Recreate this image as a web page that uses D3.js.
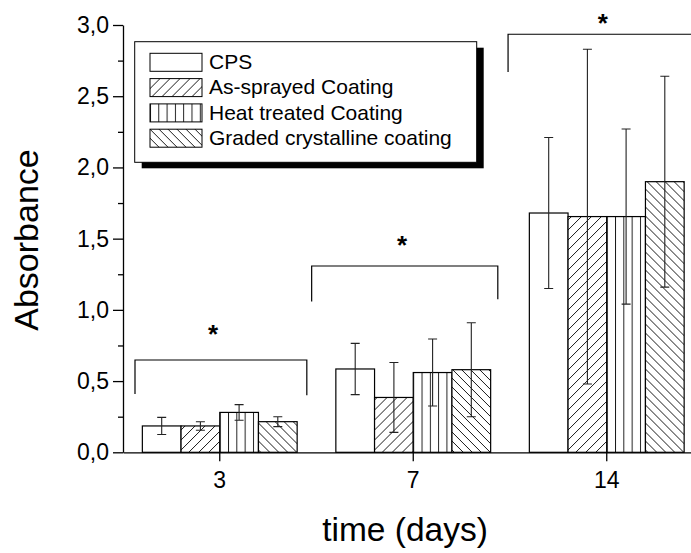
<!DOCTYPE html>
<html>
<head>
<meta charset="utf-8">
<script src="https://cdn.jsdelivr.net/npm/d3@7/dist/d3.min.js"></script>
<style>
  html, body { margin: 0; padding: 0; background: #fff; }
  svg { display: block; font-family: "Liberation Sans", Arial, sans-serif; }
</style>
</head>
<body>
<svg id="chart" width="691" height="553"></svg>
<script>
// categories
var days = ['3', '7', '14'];
var series = ['CPS', 'As-sprayed Coating', 'Heat treated Coating', 'Graded crystalline coating'];

// absorbance means and error (one value per day)
var cps = [0.185, 0.585, 1.68];
var cpsErr = [0.06, 0.18, 0.53];
var asSprayed = [0.185, 0.385, 1.655];
var asSprayedErr = [0.03, 0.245, 1.175];
var heatTreated = [0.28, 0.56, 1.655];
var heatTreatedErr = [0.055, 0.235, 0.615];
var graded = [0.215, 0.58, 1.90];
var gradedErr = [0.035, 0.33, 0.74];

var yTicks = [0, 0.5, 1.0, 1.5, 2.0, 2.5, 3.0];
var yMinorTicks = [0.25, 0.75, 1.25, 1.75, 2.25, 2.75];

// significance brackets, x in category units, y in absorbance
var bracketFrom = [0.062, 0.975, 1.99];
var bracketTo = [0.95, 1.937, 3.05];
var bracketLevel = [0.648, 1.308, 2.935];
var bracketLeftEnd = [0.41, 1.058, 2.67];
var bracketRightEnd = [0.40, 1.074, null];
var starAt = [0.465, 1.442, 2.48];
var starLevel = [0.873, 1.498, 3.05];

var values = [cps, asSprayed, heatTreated, graded];
var errors = [cpsErr, asSprayedErr, heatTreatedErr, gradedErr];
var fills = ['none', 'url(#hatchFwd)', 'url(#hatchVert)', 'url(#hatchBack)'];

var svg = d3.select('#chart');
var plotLeft = 123, plotBottom = 452.3, plotTop = 25, plotRight = 703.5;

var y = d3.scaleLinear().domain([0, 3]).range([plotBottom, plotTop]);
var x = d3.scaleBand().domain(days).range([plotLeft, plotRight]).paddingInner(0).paddingOuter(0);
var xSub = d3.scaleBand().domain(series).range([0, x.bandwidth()]).paddingInner(0).paddingOuter(0.5);
var xPos = d3.scaleLinear().domain([0, 3]).range([plotLeft, plotRight]);
var comma = d3.formatLocale({decimal: ',', thousands: '.', grouping: [3], currency: ['', '']}).format('.1f');

// hatch patterns
var defs = svg.append('defs');
defs.append('pattern').attr('id', 'hatchFwd').attr('patternUnits', 'userSpaceOnUse')
  .attr('width', 10).attr('height', 10)
  .append('path').attr('d', 'M0,10L10,0M-2,2L2,-2M8,12L12,8')
  .attr('stroke', '#000').attr('stroke-width', 0.9);
defs.append('pattern').attr('id', 'hatchVert').attr('patternUnits', 'userSpaceOnUse')
  .attr('width', 8.3).attr('height', 10)
  .append('line').attr('x1', 0.5).attr('x2', 0.5).attr('y1', 0).attr('y2', 10)
  .attr('stroke', '#000').attr('stroke-width', 0.9);
defs.append('pattern').attr('id', 'hatchBack').attr('patternUnits', 'userSpaceOnUse')
  .attr('width', 9).attr('height', 9)
  .append('path').attr('d', 'M0,0L9,9M-2,7L2,11M7,-2L11,2')
  .attr('stroke', '#000').attr('stroke-width', 0.9);

// bars
var barData = [];
days.forEach(function(day, di) {
  series.forEach(function(s, si) {
    barData.push({day: day, s: s, si: si, v: values[si][di], e: errors[si][di]});
  });
});

var bar = svg.append('g').selectAll('g').data(barData).enter().append('g')
  .attr('transform', function(d) { return 'translate(' + (x(d.day) + xSub(d.s)) + ',0)'; });

bar.append('rect')
  .attr('x', 0).attr('width', xSub.bandwidth())
  .attr('y', function(d) { return y(d.v); })
  .attr('height', function(d) { return y(0) - y(d.v); })
  .attr('fill', '#fff');
bar.append('rect')
  .attr('x', 0).attr('width', xSub.bandwidth())
  .attr('y', function(d) { return y(d.v); })
  .attr('height', function(d) { return y(0) - y(d.v); })
  .attr('fill', function(d) { return fills[d.si]; })
  .attr('stroke', '#000').attr('stroke-width', 1.2);

// error bars
var cx = xSub.bandwidth() / 2;
bar.append('path')
  .attr('d', function(d) {
    var t = y(d.v + d.e), b = y(d.v - d.e);
    return 'M' + cx + ',' + t + 'V' + b +
      'M' + (cx - 4.5) + ',' + t + 'H' + (cx + 4.5) +
      'M' + (cx - 4.5) + ',' + b + 'H' + (cx + 4.5);
  })
  .attr('fill', 'none').attr('stroke', '#222').attr('stroke-width', 1.1);

// axes
svg.append('g').attr('class', 'axis').attr('transform', 'translate(' + plotLeft + ',0)')
  .call(d3.axisLeft(y).tickValues(yTicks).tickFormat(comma).tickSize(10).tickSizeOuter(0).tickPadding(4));
svg.append('g').attr('class', 'axis').attr('transform', 'translate(' + plotLeft + ',0)')
  .call(d3.axisLeft(y).tickValues(yMinorTicks).tickFormat('').tickSize(5).tickSizeOuter(0))
  .select('.domain').remove();
svg.append('g').attr('class', 'axis').attr('transform', 'translate(0,' + plotBottom + ')')
  .call(d3.axisBottom(x).tickSize(9).tickSizeOuter(0).tickPadding(10));

svg.selectAll('.axis').attr('font-size', 23).attr('font-family', '"Liberation Sans", Arial, sans-serif');
svg.selectAll('.tick text').attr('fill', '#000');
svg.selectAll('.domain, .tick line').attr('stroke', '#000').attr('stroke-width', 1.3);

// axis titles
svg.append('text').attr('transform', 'translate(38,240) rotate(-90)')
  .attr('text-anchor', 'middle').attr('font-size', 34).text('Absorbance');
svg.append('text').attr('x', 405).attr('y', 541)
  .attr('text-anchor', 'middle').attr('font-size', 33.5).text('time (days)');

// significance brackets
days.forEach(function(day, i) {
  var x0 = xPos(bracketFrom[i]), x1 = xPos(bracketTo[i]), yl = y(bracketLevel[i]);
  var d = 'M' + x0 + ',' + y(bracketLeftEnd[i]) + 'V' + yl + 'H' + x1;
  if (bracketRightEnd[i] !== null) d += 'V' + y(bracketRightEnd[i]);
  svg.append('path').attr('d', d).attr('fill', 'none').attr('stroke', '#000').attr('stroke-width', 1.2);
  svg.append('text').attr('x', xPos(starAt[i])).attr('y', y(starLevel[i]) + 14.6)
    .attr('text-anchor', 'middle').attr('font-size', 26).attr('font-weight', 'bold').text('*');
});

// legend
var lg = svg.append('g').attr('transform', 'translate(134.7,41.7)');
lg.append('rect').attr('x', 7).attr('y', 6).attr('width', 342).attr('height', 120.6).attr('fill', '#000');
lg.append('rect').attr('width', 342).attr('height', 120.6).attr('fill', '#fff').attr('stroke', '#000').attr('stroke-width', 1);
var item = lg.selectAll('g.item').data(series).enter().append('g').attr('class', 'item')
  .attr('transform', function(d, i) { return 'translate(15.3,' + (11.6 + i * 25.3) + ')'; });
item.append('rect').attr('width', 52).attr('height', 18)
  .attr('fill', function(d, i) { return fills[i] === 'none' ? '#fff' : fills[i]; })
  .attr('stroke', '#000').attr('stroke-width', 1);
item.append('text').attr('x', 59).attr('y', 15.7).attr('font-size', 21).text(function(d) { return d; });
</script>
</body>
</html>
